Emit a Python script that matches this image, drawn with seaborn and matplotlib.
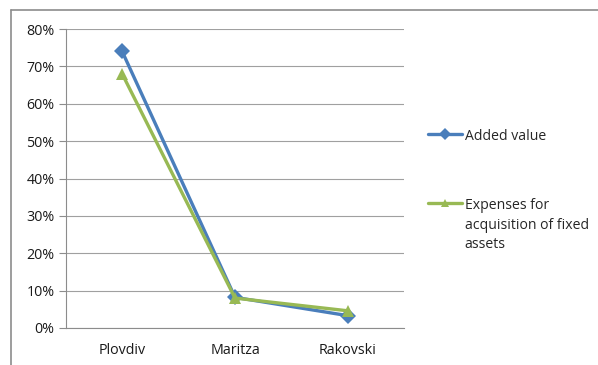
import numpy as np
import pandas as pd
import matplotlib.pyplot as plt
import seaborn as sns
from matplotlib.lines import Line2D
from matplotlib.ticker import PercentFormatter

# Data
regions = ['Plovdiv', 'Maritza', 'Rakovski']
added_value = [74.0, 8.2, 3.3]
expenses = [68.0, 8.0, 4.6]
series_names = ['Added value', 'Expenses for\nacquisition of fixed\nassets']

df = pd.DataFrame({
    'Region': regions * 2,
    'Share': added_value + expenses,
    'Series': [series_names[0]] * 3 + [series_names[1]] * 3,
})
df['x'] = df['Region'].map({r: i for i, r in enumerate(regions)})

sns.set_style('white')
plt.rcParams['font.family'] = ['Open Sans', 'DejaVu Sans']

fig = plt.figure(figsize=(5.98, 3.65), dpi=100)
ax = fig.add_axes([0.110, 0.1014, 0.566, 0.819])

palette = {series_names[0]: '#4A7EBB', series_names[1]: '#98B954'}
markers = {series_names[0]: 'D', series_names[1]: '^'}
sns.lineplot(data=df, x='x', y='Share', hue='Series', style='Series',
             palette=palette, markers=markers, dashes=False,
             linewidth=2.4, markersize=8, markeredgewidth=0, ax=ax,
             legend=False)

grey = '#8C8C8C'
ax.set_xlim(-0.5, 2.5)
ax.set_ylim(0, 80)
ax.set_yticks(np.arange(0, 81, 10))
ax.yaxis.set_major_formatter(PercentFormatter(decimals=0))
ax.set_xticks(range(3))
ax.set_xticklabels(regions)
ax.set_xticks([-0.5, 0.5, 1.5, 2.5], minor=True)
ax.tick_params(axis='x', which='major', length=0, pad=11, labelsize=10.3, colors='#1a1a1a')
ax.tick_params(axis='x', which='minor', length=5, color=grey, width=0.8)
ax.tick_params(axis='y', length=5, color=grey, width=0.8, labelsize=10.3,
               labelcolor='#1a1a1a', left=True, pad=3)
ax.set_xlabel('')
ax.set_ylabel('')
ax.grid(axis='y', color='#A0A0A0', linewidth=0.8)
ax.set_axisbelow(True)
for side in ['top', 'right']:
    ax.spines[side].set_visible(False)
for side in ['left', 'bottom']:
    ax.spines[side].set_color(grey)
    ax.spines[side].set_linewidth(0.8)

handles = [Line2D([], [], color=palette[s], marker=markers[s], linewidth=2.4,
                  markersize=6, markeredgewidth=0) for s in series_names]
leg = ax.legend(handles, series_names, loc='upper left', bbox_to_anchor=(0.695, 0.68),
                bbox_transform=fig.transFigure, frameon=False, fontsize=10.1,
                labelspacing=3.85, handlelength=2.4, handletextpad=0.2)
for t in leg.get_texts():
    t.set_linespacing(1.4)
# put the legend handle beside the first line of the wrapped label
for row in leg._legend_handle_box.get_children()[0].get_children():
    row.align = 'top'

# outer chart border (top and left only)
fig.add_artist(Line2D([10.5 / 598, 1.0], [1 - 10 / 365, 1 - 10 / 365],
                      transform=fig.transFigure, color=grey, linewidth=1.2))
fig.add_artist(Line2D([10.5 / 598, 10.5 / 598], [0.0, 1 - 10 / 365],
                      transform=fig.transFigure, color=grey, linewidth=1.2))

fig.savefig('out.png', dpi=100)
